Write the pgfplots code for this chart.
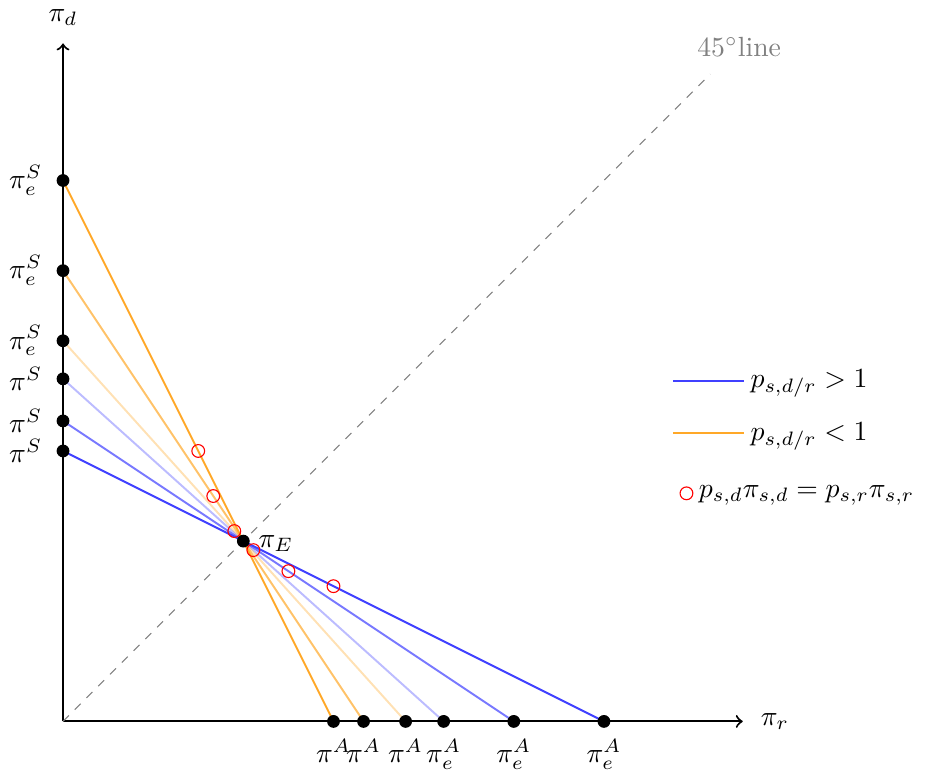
\documentclass[border=0pt]{standalone}
\usepackage{pgfplots}
\pgfplotsset{compat=1.18}
\definecolor{bl}{rgb}{0.25,0.25,1}
\definecolor{orn}{RGB}{255,168,40}
\begin{document}
\begin{tikzpicture}
\begin{axis}[
  x=65pt, y=65pt,
  xmin=0, xmax=3.77, ymin=0, ymax=3.76,
  axis lines=left,
  axis line style={line width=0.75pt, ->},
  major tick length=0pt,
  xtick={1.5,1.6667,1.9,2.1111,2.5,3},
  xticklabels={$\pi^A$,$\pi^A$,$\pi^A$,$\pi_e^A$,$\pi_e^A$,$\pi_e^A$},
  ytick={1.5,1.6667,1.9,2.1111,2.5,3},
  yticklabels={$\pi^S$,$\pi^S$,$\pi^S$,$\pi_e^S$,$\pi_e^S$,$\pi_e^S$},
  xticklabel style={yshift=-3pt},
  yticklabel style={xshift=-4pt},
  clip=false,
  every axis x label/.style={at={(axis cs:3.77,0)}, anchor=west, xshift=3pt},
  every axis y label/.style={at={(axis cs:0,3.76)}, anchor=south, yshift=3pt},
  xlabel={$\pi_r$}, ylabel={$\pi_d$},
  legend style={draw=none, fill=none, at={(axis cs:3.33,2.015)}, anchor=north west, row sep=7pt, cells={anchor=west}},
  legend image code/.code={\draw[#1] (0pt,0pt) -- (25.5pt,0pt);},
]
\addlegendimage{bl, line width=0.7pt}
\addlegendentry{$p_{s,d/r} > 1$}
\addlegendimage{orn, line width=0.7pt}
\addlegendentry{$p_{s,d/r} < 1$}

\addplot[gray, dashed, forget plot] coordinates {(0,0) (3.59,3.59)};

\addplot[bl, line width=0.7pt, forget plot] coordinates {(0,1.5) (3,0)};
\addplot[bl, line width=0.7pt, opacity=0.7, forget plot] coordinates {(0,1.6667) (2.5,0)};
\addplot[bl, line width=0.7pt, opacity=0.35, forget plot] coordinates {(0,1.9) (2.1111,0)};
\addplot[orn, line width=0.7pt, opacity=0.35, forget plot] coordinates {(0,2.1111) (1.9,0)};
\addplot[orn, line width=0.7pt, opacity=0.7, forget plot] coordinates {(0,2.5) (1.6667,0)};
\addplot[orn, line width=0.7pt, forget plot] coordinates {(0,3) (1.5,0)};

\addplot[only marks, mark=o, red, mark size=2.3pt, forget plot] coordinates {
 (0.75,1.5) (0.8333,1.25) (0.95,1.0556) (1.0556,0.95) (1.25,0.8333) (1.5,0.75)};

\addplot[only marks, mark=*, black, mark size=2.1pt, forget plot] coordinates {
 (0,1.5) (0,1.6667) (0,1.9) (0,2.1111) (0,2.5) (0,3)
 (1.5,0) (1.6667,0) (1.9,0) (2.1111,0) (2.5,0) (3,0) (1,1)};

\node[anchor=west, xshift=2pt, yshift=-1pt] at (axis cs:1,1) {$\pi_E$};
\node[gray] at (axis cs:3.75,3.74) {$45^{\circ}$line};
\end{axis}
\begin{axis}[
  x=65pt, y=65pt,
  xmin=0, xmax=3.77, ymin=0, ymax=3.76,
  hide axis,
  legend style={draw=none, fill=none, at={(axis cs:3.37,1.265)}, anchor=west},
  legend image code/.code={\draw[red] (0pt,0pt) circle (2.3pt);},
]
\addlegendimage{red}
\addlegendentry{$p_{s,d}\pi_{s,d} = p_{s,r}\pi_{s,r}$}
\end{axis}
\end{tikzpicture}
\end{document}
